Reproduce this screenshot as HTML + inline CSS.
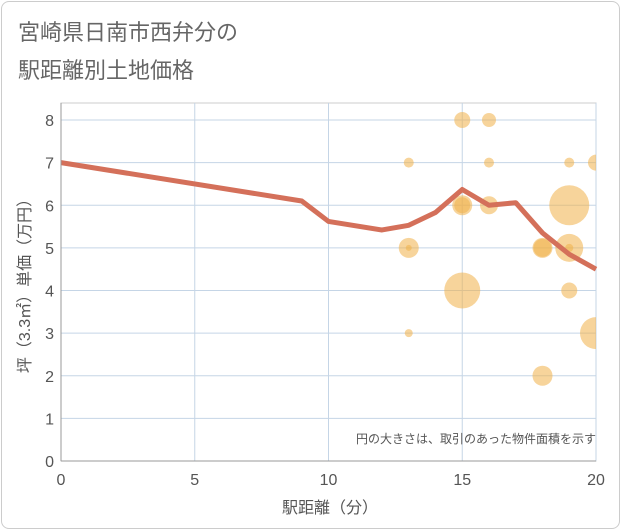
<!DOCTYPE html>
<html><head><meta charset="utf-8"><style>
body{margin:0;background:#fff;font-family:"Liberation Sans","Noto Sans CJK JP",sans-serif;}
#card{position:absolute;left:1px;top:1px;width:617px;height:526px;border:1px solid #ccc;border-radius:8px;background:#fff}
</style></head><body>
<div id="card"></div>
<svg id="chart" width="621" height="530" style="position:absolute;left:0;top:0">
<text x="18" y="40" font-size="22" fill="#666">宮崎県日南市西弁分の</text>
<text x="18" y="78" font-size="22" fill="#666">駅距離別土地価格</text>
<defs><clipPath id="pc"><rect x="61" y="103" width="535" height="358"/></clipPath></defs>
<g id="grid"></g>
<g id="bubbles" clip-path="url(#pc)"></g>
<g id="line"></g>
<g id="ticks"></g>
<text x="596" y="443" font-size="12" fill="#555" text-anchor="end">円の大きさは、取引のあった物件面積を示す</text>
<text x="330" y="513" font-size="16" fill="#555" text-anchor="middle">駅距離（分）</text>
<text transform="translate(30,282) rotate(-90)" font-size="16" fill="#555" text-anchor="middle">坪（3.3㎡）単価（万円）</text>
</svg>
<script>
const xTicks=[0,5,10,15,20];
const yTicks=[0,1,2,3,4,5,6,7,8];
const bubbleX=[13,13,13,13,15,15,15,15,16,16,16,18,18,18,19,19,19,19,19,20,20];
const bubbleY=[7,5,5,3,8,6,6,4,8,7,6,5,5,2,7,6,5,5,4,7,3];
const bubbleR=[5,10,3,4,8,10,8,18,7,5,9,10,9,10,5,20,14,4,8,8,16];
const lineX=[0,9,10,12,13,14,15,16,17,18,19,20];
const lineY=[7,6.1,5.62,5.42,5.53,5.83,6.37,6.0,6.06,5.35,4.85,4.5];
const X0=61,X1=596,Y0=461,Y1=120;
const sx=v=>X0+(X1-X0)*v/20, sy=v=>Y0-(Y0-Y1)*v/8;
const NS="http://www.w3.org/2000/svg";
function mk(t,a,p){const e=document.createElementNS(NS,t);for(const k in a)e.setAttribute(k,a[k]);p.appendChild(e);return e;}
const grid=document.getElementById('grid'),ticks=document.getElementById('ticks');
mk('rect',{x:61,y:103,width:535,height:358,fill:'none',stroke:'#ccc'},grid);
yTicks.forEach(v=>{
 const l=mk('line',{x1:X0,x2:X1,y1:sy(v),y2:sy(v),stroke:'#c5d5e6','stroke-width':1},grid);
 
 
 const t=mk('text',{x:54,y:sy(v)+6,'font-size':16,fill:'#555','text-anchor':'end'},ticks);t.textContent=v;
 
 
});
xTicks.forEach(v=>{
 const l=mk('line',{x1:sx(v),x2:sx(v),y1:103,y2:Y0,stroke:'#c5d5e6','stroke-width':1},grid);
 
 
 const t=mk('text',{x:sx(v),y:485,'font-size':16,fill:'#555','text-anchor':'middle'},ticks);t.textContent=v;
 
 
});
mk('line',{x1:X0,x2:X1,y1:Y0,y2:Y0,stroke:'#999'},ticks);
mk('line',{x1:X0,x2:X0,y1:103,y2:Y0,stroke:'#999'},ticks);
const bg=document.getElementById('bubbles');
bubbleX.forEach((x,i)=>{
 const c=mk('circle',{cx:sx(x),cy:sy(bubbleY[i]),r:bubbleR[i],fill:'#f0b048','fill-opacity':0.55},bg);
 
 
});
const p=mk('polyline',{points:lineX.map((x,i)=>sx(x)+','+sy(lineY[i])).join(' '),fill:'none',stroke:'#d4705a','stroke-width':5,'stroke-linejoin':'round'},document.getElementById('line'));


</script>
</body></html>
